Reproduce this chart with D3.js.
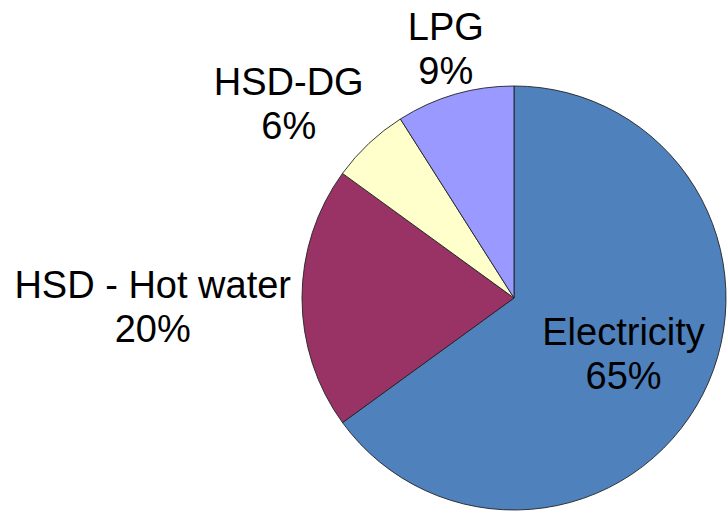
<!DOCTYPE html>
<html>
<head>
<meta charset="utf-8">
<script src="https://cdn.jsdelivr.net/npm/d3@7"></script>
<style>
  html, body { margin: 0; padding: 0; background: #fff; }
  text { font-family: "Liberation Sans", Arial, sans-serif; }
</style>
</head>
<body>
<div class="canvas"></div>
<script>
// data
const labels = ["Electricity", "HSD - Hot water", "HSD-DG", "LPG"];
const shares = [65, 20, 6, 9];
const colours = ["#4f81bd", "#993366", "#ffffcc", "#9999ff"];

const W = 727, H = 514;
const cx = 514, cy = 298, R = 212;
const fontSize = 38, lineGap = 44, capH = fontSize * 0.716;

const svg = d3.select(".canvas").append("svg").attr("width", W).attr("height", H);
const g = svg.append("g").attr("transform", `translate(${cx},${cy})`);

const data = labels.map((l, i) => ({ label: l, value: shares[i], colour: colours[i] }));

const pie = d3.pie().value(d => d.value).sort(null);
const arc = d3.arc().innerRadius(0).outerRadius(R);
const arcs = pie(data);

g.selectAll("path")
    .data(arcs)
    .enter()
    .append("path")
    .attr("d", arc)
    .attr("fill", d => d.data.colour)
    .attr("stroke", "#222")
    .attr("stroke-width", 0.9);

// labels: the big slice gets its label inside, the small ones go outside
function clamp(v) { return Math.max(-1, Math.min(1, v)); }

arcs.forEach(d => {
    const a = (d.startAngle + d.endAngle) / 2;
    const sx = Math.sin(a), sy = -Math.cos(a);
    const lab = g.append("text")
        .attr("text-anchor", "middle")
        .attr("font-size", fontSize)
        .attr("fill", "#000");
    const l1 = lab.append("tspan").attr("x", 0).text(d.data.label);
    const l2 = lab.append("tspan").attr("x", 0).text(d.data.value + "%");

    let mx, my;
    if (d.data.value > 50) {
        const r = R * 0.58;
        mx = sx * r; my = sy * r;
    } else {
        const w = Math.max(l1.node().getComputedTextLength(), l2.node().getComputedTextLength());
        const h = lineGap + capH;
        const r = R + 11;
        const kx = Math.sign(sx) * clamp(Math.max(0, Math.abs(sx) - 0.2) * 2);
        mx = sx * r + kx * w / 2;
        my = sy * r + clamp(sy * 1.3) * h / 2 + (1 - Math.abs(sy)) * 8;
    }
    const b1 = my + (capH - lineGap) / 2;
    lab.attr("transform", `translate(${mx},0)`);
    l1.attr("y", b1);
    l2.attr("y", b1 + lineGap);
});
</script>
</body>
</html>
